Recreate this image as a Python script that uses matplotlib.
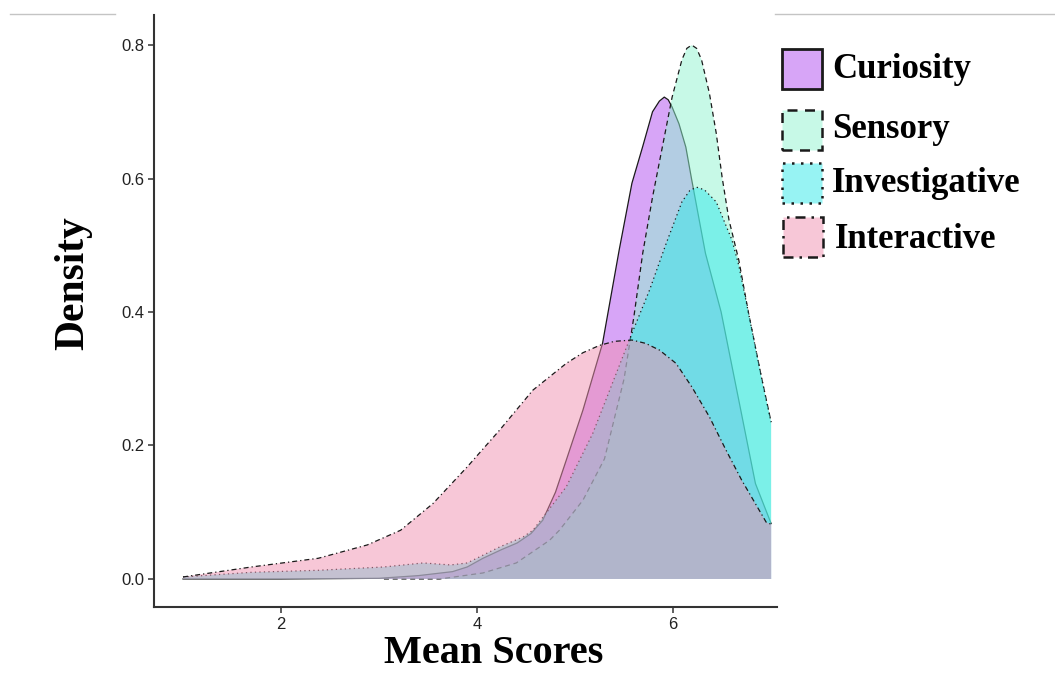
import matplotlib
matplotlib.use("Agg")
import matplotlib.pyplot as plt
from matplotlib.patches import Rectangle
from matplotlib.lines import Line2D

# ---- data ----
series_names = ["Curiosity", "Sensory", "Investigative", "Interactive"]

curiosity_x = [1.0, 2.0, 3.0, 3.4, 3.75, 3.9, 4.06, 4.25, 4.41, 4.55, 4.67, 4.8, 4.91,
               5.08, 5.28, 5.45, 5.58, 5.69, 5.79, 5.86, 5.91, 5.95, 5.99, 6.06, 6.13, 6.19,
               6.33, 6.49, 6.67, 6.84, 7.0]
curiosity_y = [0.0, 0.0, 0.001, 0.005, 0.011, 0.018, 0.031, 0.044, 0.054, 0.068, 0.088, 0.13, 0.178,
               0.253, 0.353, 0.493, 0.593, 0.648, 0.700, 0.716, 0.722, 0.718, 0.707, 0.682, 0.647, 0.598,
               0.488, 0.400, 0.268, 0.143, 0.083]

sensory_x = [3.05, 3.62, 4.06, 4.4, 4.74, 4.84, 5.08, 5.3, 5.5, 5.6, 5.69, 5.79, 5.89, 5.99,
             6.09, 6.14, 6.19, 6.24, 6.29, 6.37, 6.44, 6.5, 6.57, 6.67, 6.77, 6.9, 7.0]
sensory_y = [0.0, 0.0, 0.009, 0.024, 0.058, 0.073, 0.118, 0.180, 0.300, 0.393, 0.488, 0.572, 0.647, 0.722,
             0.778, 0.795, 0.800, 0.795, 0.778, 0.728, 0.668, 0.602, 0.538, 0.478, 0.398, 0.303, 0.235]

investigative_x = [1.0, 1.7, 2.38, 3.05, 3.45, 3.73, 3.9, 4.23, 4.47, 4.57, 4.91, 5.18, 5.42,
                   5.58, 5.76, 5.93, 6.09, 6.17, 6.24, 6.32, 6.44, 6.6, 6.67, 6.77, 6.9, 7.0]
investigative_y = [0.003, 0.010, 0.013, 0.018, 0.024, 0.021, 0.024, 0.048, 0.063, 0.073, 0.138, 0.218, 0.308,
                   0.368, 0.433, 0.503, 0.565, 0.582, 0.587, 0.583, 0.565, 0.508, 0.470, 0.398, 0.303, 0.235]

interactive_x = [1.0, 1.7, 2.38, 2.88, 3.22, 3.55, 3.9, 4.23, 4.57, 4.91, 5.08, 5.25, 5.4, 5.58, 5.72,
                 5.86, 6.03, 6.19, 6.37, 6.54, 6.7, 6.95, 7.0]
interactive_y = [0.003, 0.018, 0.031, 0.051, 0.073, 0.113, 0.168, 0.223, 0.283, 0.323, 0.339, 0.350, 0.356,
                 0.358, 0.353, 0.343, 0.323, 0.288, 0.243, 0.193, 0.148, 0.085, 0.082]

x_ticks = [2, 4, 6]
y_ticks = [0.0, 0.2, 0.4, 0.6, 0.8]
y_tick_labels = ["0.0", "0.2", "0.4", "0.6", "0.8"]

# ---- styles ----
fill_colors = ["#B14DF1", "#91F5D1", "#31E9E9", "#F191B1"]
line_dashes = [None, (4, 3), (1, 2.6), (4, 2.4, 1, 2.4)]
fill_alpha = 0.5

W, H = 1055, 673
fig = plt.figure(figsize=(W / 100, H / 100), dpi=100)
ax = fig.add_axes([154 / W, (H - 607) / H, (777 - 154) / W, (607 - 15) / H])

data = [(curiosity_x, curiosity_y), (sensory_x, sensory_y),
        (investigative_x, investigative_y), (interactive_x, interactive_y)]

z = 2
for (xs, ys), col, dash in zip(data, fill_colors, line_dashes):
    ax.fill_between(xs, 0, ys, facecolor=col, alpha=fill_alpha, linewidth=0, zorder=z)
    ln, = ax.plot(xs, ys, color="#1a1a1a", linewidth=0.9, zorder=z + 0.5,
                  solid_joinstyle="round")
    if dash is not None:
        ln.set_dashes(dash)
    z += 1

ax.set_xlim(0.704, 7.06)
ax.set_ylim(-0.042, 0.845)
ax.set_xticks(x_ticks)
ax.set_xticklabels([str(t) for t in x_ticks])
ax.set_yticks(y_ticks)
ax.set_yticklabels(y_tick_labels)

for s in ["top", "right"]:
    ax.spines[s].set_visible(False)
for s in ["left", "bottom"]:
    ax.spines[s].set_color("#333333")
    ax.spines[s].set_linewidth(1.5)
ax.tick_params(axis="both", direction="out", length=4, width=1.1, color="#333333",
               labelsize=12, labelcolor="#222222", pad=3)
for lab in ax.get_xticklabels() + ax.get_yticklabels():
    lab.set_family("Liberation Sans")

# axis titles
fig.text(494 / W, (H - 663) / H, "Mean Scores", ha="center", va="baseline",
         fontsize=29, fontweight="bold", family="Liberation Serif", color="black")
fig.text(73 / W, (H - 283) / H, "Density", ha="center", va="center", rotation=90,
         fontsize=30, fontweight="bold", family="Liberation Serif", color="black")

# legend (drawn manually to match the reference placement)
key_boxes = [(782, 49), (782, 110), (782, 163), (783, 217)]
text_pos = [(832, 70), (832, 130), (832, 183), (835, 239)]
key_lw = [2.0, 1.8, 1.8, 1.8]
for name, col, dash, (kx, ky), (tx, ty), lw in zip(series_names, fill_colors, line_dashes,
                                                   key_boxes, text_pos, key_lw):
    r = Rectangle((kx / W, (H - ky - 40) / H), 40 / W, 40 / H, transform=fig.transFigure,
                  edgecolor="#1a1a1a", linewidth=lw)
    r.set_facecolor((*matplotlib.colors.to_rgb(col), fill_alpha))
    if dash is not None:
        r.set_linestyle((0, dash))
    fig.patches.append(r)
    fig.text(tx / W, (H - ty) / H, name, ha="left", va="center", fontsize=25,
             fontweight="bold", family="Liberation Serif", color="black")

# faint rules at the top of the picture
fig.add_artist(Line2D([10 / W, 115 / W], [(H - 14) / H, (H - 14) / H], color="#c4c4c4",
                      linewidth=1.0, transform=fig.transFigure))
fig.add_artist(Line2D([775 / W, 1055 / W], [(H - 14) / H, (H - 14) / H], color="#c4c4c4",
                      linewidth=1.0, transform=fig.transFigure))

fig.savefig("out.png", dpi=100)
